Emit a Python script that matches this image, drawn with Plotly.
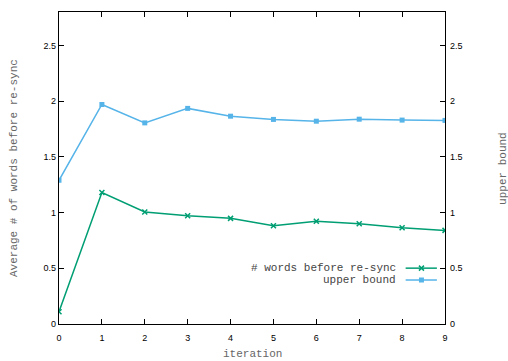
import plotly.graph_objects as go

iterations = [0, 1, 2, 3, 4, 5, 6, 7, 8, 9]
words_before_resync = [0.11, 1.18, 1.005, 0.972, 0.948, 0.882, 0.922, 0.900, 0.864, 0.840]
upper_bound = [1.29, 1.97, 1.805, 1.935, 1.865, 1.836, 1.820, 1.838, 1.830, 1.827]
y_ticks = [0, 0.5, 1, 1.5, 2, 2.5]
y_tick_text = ["0", "0.5", "1", "1.5", "2", "2.5"]
series_names = ["# words before re-sync", "upper bound"]

GREEN = "#009e73"
BLUE = "#56b4e9"
TICKFONT = dict(family="Liberation Sans, Arial, sans-serif", size=9, color="#000000")
MONO = "Liberation Mono, DejaVu Sans Mono, monospace"

fig = go.Figure()
fig.add_trace(go.Scatter(
    x=iterations, y=words_before_resync, mode="lines+markers",
    line=dict(color=GREEN, width=1.5),
    marker=dict(symbol="x-thin", size=5, line=dict(color=GREEN, width=1.5), color=GREEN),
    showlegend=False, xaxis="x", yaxis="y"))
fig.add_trace(go.Scatter(
    x=iterations, y=upper_bound, mode="lines+markers",
    line=dict(color=BLUE, width=1.5),
    marker=dict(symbol="square", size=5, color=BLUE),
    showlegend=False, xaxis="x", yaxis="y2"))

# legend key samples (gnuplot style: text then line sample), drawn on a hidden unit axis
key_x = [0.898, 0.939, 0.979]
key_y = [0.179, 0.141]
fig.add_trace(go.Scatter(
    x=key_x, y=[key_y[0]] * 3, mode="lines", line=dict(color=GREEN, width=1.5),
    showlegend=False, hoverinfo="skip", xaxis="x3", yaxis="y3"))
fig.add_trace(go.Scatter(
    x=[key_x[1]], y=[key_y[0]], mode="markers",
    marker=dict(symbol="x-thin", size=5, line=dict(color=GREEN, width=1.5), color=GREEN),
    showlegend=False, hoverinfo="skip", xaxis="x3", yaxis="y3"))
fig.add_trace(go.Scatter(
    x=key_x, y=[key_y[1]] * 3, mode="lines", line=dict(color=BLUE, width=1.5),
    showlegend=False, hoverinfo="skip", xaxis="x3", yaxis="y3"))
fig.add_trace(go.Scatter(
    x=[key_x[1]], y=[key_y[1]], mode="markers",
    marker=dict(symbol="square", size=5, color=BLUE),
    showlegend=False, hoverinfo="skip", xaxis="x3", yaxis="y3"))

annotations = [
    dict(text=series_names[0], x=0.878, y=key_y[0], xref="paper", yref="paper",
         xanchor="right", yanchor="middle", showarrow=False,
         font=dict(family=MONO, size=11, color="#444444")),
    dict(text=series_names[1], x=0.878, y=key_y[1], xref="paper", yref="paper",
         xanchor="right", yanchor="middle", showarrow=False,
         font=dict(family=MONO, size=11, color="#444444")),
    dict(text="Average # of words before re-sync", x=-0.1166, y=0.5, xref="paper", yref="paper",
         xanchor="center", yanchor="middle", textangle=-90, showarrow=False,
         font=dict(family=MONO, size=11, color="#666666")),
    dict(text="upper bound", x=1.150, y=0.5, xref="paper", yref="paper",
         xanchor="center", yanchor="middle", textangle=-90, showarrow=False,
         font=dict(family=MONO, size=11, color="#666666")),
    dict(text="iteration", x=0.5, y=-0.096, xref="paper", yref="paper",
         xanchor="center", yanchor="middle", showarrow=False,
         font=dict(family=MONO, size=11, color="#666666")),
]

fig.update_layout(
    width=508, height=361,
    margin=dict(l=59, r=63, t=12, b=37),
    paper_bgcolor="white", plot_bgcolor="white",
    showlegend=False,
    annotations=annotations,
    xaxis=dict(range=[0, 9], tickmode="array", tickvals=iterations,
               ticks="inside", ticklen=5, tickcolor="black", tickwidth=1,
               showline=True, linecolor="black", linewidth=1.2, mirror="ticks",
               showgrid=False, zeroline=False, tickfont=TICKFONT, ticklabelstandoff=5),
    yaxis=dict(range=[0, 2.8], tickmode="array", tickvals=y_ticks, ticktext=y_tick_text,
               ticks="inside", ticklen=5, tickcolor="black", tickwidth=1,
               showline=True, linecolor="black", linewidth=1.2, mirror=True,
               showgrid=False, zeroline=False, tickfont=TICKFONT),
    yaxis2=dict(range=[0, 2.8], tickmode="array", tickvals=y_ticks, ticktext=y_tick_text,
                overlaying="y", side="right", anchor="x",
                ticks="inside", ticklen=5, tickcolor="black", tickwidth=1,
                showline=True, linecolor="black", linewidth=1.2,
                showgrid=False, zeroline=False, tickfont=TICKFONT, ticklabelstandoff=2),
    xaxis3=dict(range=[0, 1], overlaying="x", anchor="y3", visible=False, fixedrange=True),
    yaxis3=dict(range=[0, 1], overlaying="y", anchor="x3", visible=False, fixedrange=True),
)

fig.write_html("out.html")
